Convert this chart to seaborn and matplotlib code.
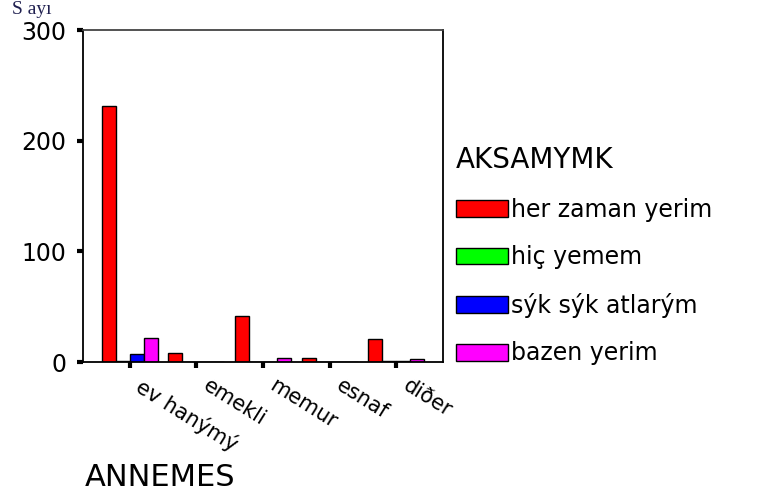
import pandas as pd
import numpy as np
import matplotlib
matplotlib.use("Agg")
import matplotlib.pyplot as plt
import matplotlib.transforms as mtransforms
import seaborn as sns

# data
categories = ["ev hanýmý", "emekli", "memur", "esnaf", "diðer"]
groups = ["her zaman yerim", "hiç yemem", "sýk sýk atlarým", "bazen yerim"]
her_zaman = [231, 8, 42, 4, 21]
hic_yemem = [1, 0, 0, 0, 1]
sik_sik = [7, 0, 0, 0, 1]
bazen = [22, 0, 4, 0, 3]
colors = ["#ff0000", "#00ff00", "#0000ff", "#ff00ff"]

rows = []
for g, vals in zip(groups, [her_zaman, hic_yemem, sik_sik, bazen]):
    for c, v in zip(categories, vals):
        rows.append({"ANNEMES": c, "Sayi": v, "AKSAMYMK": g})
df = pd.DataFrame(rows)

sns.set_style("white")
plt.rcParams["font.family"] = ["DejaVu Sans"]
plt.rcParams["text.color"] = "black"
plt.rcParams["xtick.color"] = "black"
plt.rcParams["ytick.color"] = "black"

fig = plt.figure(figsize=(7.72, 4.98), dpi=100)
ax = fig.add_axes([83 / 772, 1 - 362 / 498, 360 / 772, 332 / 498])

sns.barplot(data=df, x="ANNEMES", y="Sayi", hue="AKSAMYMK", hue_order=groups,
            order=categories, palette=colors, width=0.84, gap=0,
            edgecolor="black", linewidth=1, saturation=1, ax=ax)

ax.set_ylim(0, 300)
ax.set_xlim(-0.7, 4.7)
ax.set_yticks([0, 100, 200, 300])
ax.set_xlabel("")
ax.set_ylabel("")
for s in ax.spines.values():
    s.set_color("black")
    s.set_linewidth(1.3)
ax.spines["top"].set_color("#444444")

ax.tick_params(axis="both", direction="out", length=4, width=3, color="black",
               bottom=True, left=True)
ax.tick_params(axis="y", labelsize=17, pad=8)
ax.tick_params(axis="x", labelsize=15, pad=6)
shift = mtransforms.ScaledTranslation(14 / 100, 0, fig.dpi_scale_trans)
for lab in ax.get_xticklabels():
    lab.set_rotation(-32)
    lab.set_ha("left")
    lab.set_va("top")
    lab.set_rotation_mode("anchor")
    lab.set_transform(lab.get_transform() + shift)

fig.text(12 / 772, 1 - 10 / 498, "S ayı", family="Liberation Serif", fontsize=14,
         color="#202050", ha="left", va="center")
fig.text(85 / 772, 1 - 477 / 498, "ANNEMES", fontsize=22, ha="left", va="center")

sns.move_legend(ax, "upper left", bbox_to_anchor=(456 / 772, 1 - 146 / 498),
                bbox_transform=fig.transFigure, frameon=False, title="AKSAMYMK",
                title_fontsize=20, fontsize=17, handlelength=2.2, handleheight=0.72,
                handletextpad=0.15, labelspacing=1.0, alignment="left",
                borderaxespad=0, borderpad=0)

fig.savefig("out.png", dpi=100)
